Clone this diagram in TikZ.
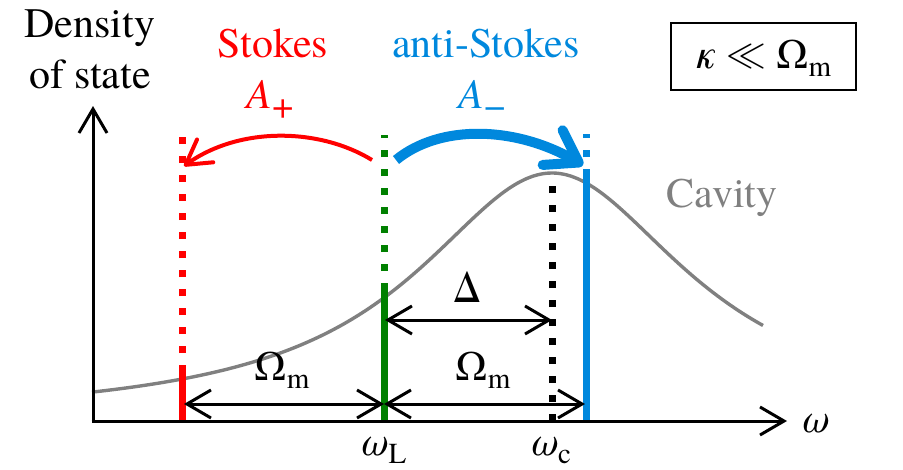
\documentclass[tikz,border=0pt]{standalone}
\usepackage{fontspec}
\setmainfont{texgyretermes}[Extension=.otf, UprightFont=*-regular, ItalicFont=*-italic, BoldFont=*-bold, BoldItalicFont=*-bolditalic]
\usetikzlibrary{arrows.meta}
\definecolor{myred}{RGB}{255,0,0}
\definecolor{myblue}{RGB}{0,136,221}
\definecolor{mygreen}{RGB}{0,128,0}
\definecolor{mygray}{RGB}{128,128,128}
\newcommand\sbs[1]{\raisebox{-8pt}{\fontsize{29}{30}\selectfont #1}}
\newcommand\sbsign[1]{\raisebox{-10pt}{\fontsize{38}{40}\selectfont #1}}
\tikzset{
  lbl/.style={inner sep=0pt, anchor=base, font=\rmfamily\fontsize{42}{50}\selectfont},
  axis/.style={line width=3pt, -{Straight Barb[length=24pt,width=28pt,line width=3pt]}},
  dim/.style={line width=3pt, {Straight Barb[length=24pt,width=28pt,line width=3pt]}-{Straight Barb[length=24pt,width=28pt,line width=3pt]}},
  solidv/.style={line width=7pt, line cap=butt},
  dotv/.style={line width=7pt, line cap=butt, dash pattern=on 7pt off 12pt},
}
\begin{document}
\begin{tikzpicture}[x=1pt,y=-1pt]
\useasboundingbox (0,0) rectangle (903,469);
% cavity curve
\draw[mygray, line width=3.4pt] plot[domain=92:763, samples=120, smooth] (\x,{421-248/(1+((\x-552)/167)^2)});
% coordinates
\coordinate (O) at (93,421);
\coordinate (Ytop) at (93,106);
\coordinate (Xend) at (787,421);
\coordinate (r0) at (182,421); \coordinate (r1) at (182,372); \coordinate (r2) at (182,128);
\coordinate (g0) at (384,421); \coordinate (g1) at (384,290); \coordinate (g2) at (384,135);
\coordinate (k0) at (552,421); \coordinate (k2) at (552,175);
\coordinate (b0) at (586,421); \coordinate (b1) at (586,176); \coordinate (b2) at (586,134);
% vertical lines
\draw[myred, solidv] (r0) -- (r1);
\draw[myred, dotv] (r1) -- (r2);
\draw[mygreen, solidv] (g0) -- (g1);
\draw[mygreen, dotv] (g1) -- (g2);
\draw[black, dotv] (k0) -- (k2);
\draw[myblue, solidv] (b0) -- (b1);
\draw[myblue, dotv] (b1) -- (b2);
% axes
\draw[axis] ([yshift=-1.5pt]O) -- (Ytop);
\draw[axis] ([xshift=-1.5pt]O) -- (Xend);
% dimension arrows
\coordinate (dL) at (385,320); \coordinate (dR) at (552,320);
\draw[dim] (dL) -- (dR);
\coordinate (mR) at (184,404); \coordinate (mC) at (384,404); \coordinate (mB) at (585,404);
\draw[dim] (mR) -- (mC);
\draw[dim] (mC) -- (mB);
% curved arrows
\coordinate (sa) at (372,160); \coordinate (se) at (184,166);
\draw[myred, line width=4pt, -{Straight Barb[length=24pt,width=28pt,line width=4pt,round]}]
  (sa) .. controls (320,128) and (240,126) .. (se);
\coordinate (aa) at (396,160); \coordinate (ae) at (583,165);
\draw[myblue, line width=10pt, -{Straight Barb[length=30pt,width=40pt,line width=10pt,round]}]
  (aa) .. controls (440,124) and (515,126) .. (ae);
% labels
\node[lbl] (dens) at (90,37) {Density};
\node[lbl] (ofst) at (90,88) {of state};
\node[lbl, text=myred] (stokes) at (273,57) {Stokes};
\node[lbl, text=myred] (ap) at (270,108) {\textit{A}\sbsign{+}};
\node[lbl, text=myblue] (anti) at (486,57) {anti-Stokes};
\node[lbl, text=myblue] (am) at (482,108) {\textit{A}\sbsign{−}};
\node[lbl, text=mygray] (cav) at (722,207) {Cavity};
\node[lbl] (delta) at (467,302) {Δ};
\node[lbl] (om1) at (282,380) {Ω\sbs{m}};
\node[lbl] (om2) at (483,380) {Ω\sbs{m}};
\node[lbl] (wL) at (383,455) {\textit{ω}\sbs{L}};
\node[lbl] (wc) at (550,455) {\textit{ω}\sbs{c}};
\node[lbl] (w) at (815,432) {\textit{ω}};
\node[lbl] (kap) at (763.5,68) {\textit{κ}\hspace{10pt}\raisebox{2pt}{\scalebox{1.6}{$\ll$}}\hspace{10pt}Ω\sbs{m}};
\draw[line width=2pt] (671,23) rectangle (856,90);
\end{tikzpicture}
\end{document}
